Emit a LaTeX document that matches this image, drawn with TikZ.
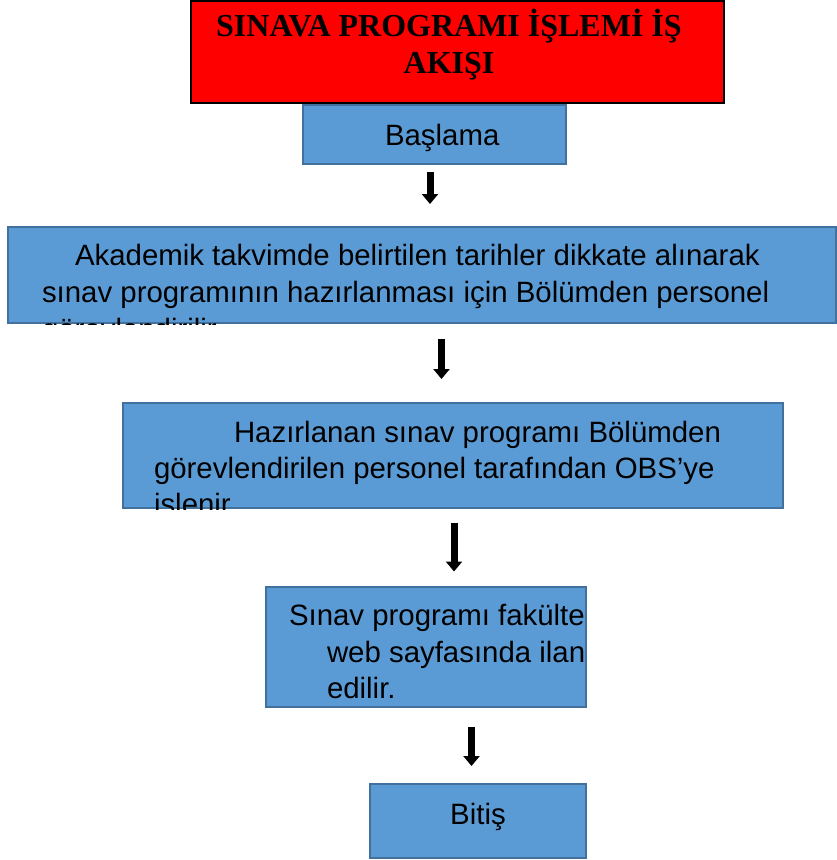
\documentclass[tikz,border=0pt]{standalone}
\usepackage{fontspec}
\setmainfont{Liberation Sans}
\newfontfamily\titlefont{Liberation Serif}
\usetikzlibrary{arrows.meta}
\definecolor{boxblue}{HTML}{5B9BD5}
\definecolor{boxedge}{HTML}{41719C}
\tikzset{
  bluebox/.style={rectangle, fill=boxblue, draw=boxedge, line width=2pt, inner sep=0pt, outer sep=0pt},
  titlebox/.style={rectangle, fill=red, draw=black, line width=1.5pt, inner sep=0pt, outer sep=0pt},
  bodytext/.style={inner sep=0pt, outer sep=0pt, font=\fontsize{29.4}{36}\selectfont, text=black},
  titletext/.style={inner sep=0pt, outer sep=0pt, font=\titlefont\bfseries\fontsize{32}{37}\selectfont, text=black},
  blockarrow/.style={line width=7pt, -{Triangle[length=10pt,width=16pt]}, black}
}
\begin{document}
\begin{tikzpicture}[x=1pt,y=-1pt]
\useasboundingbox (0,0) rectangle (837,860);
% title
\node[titlebox, minimum width=533pt, minimum height=102pt] (title) at (457.5,52) {};
\node[titletext, anchor=base] (t1) at (449,36) {SINAVA PROGRAMI İŞLEMİ İŞ};
\node[titletext, anchor=base] (t2) at (449,73) {AKIŞI};
% start
\node[bluebox, minimum width=263pt, minimum height=59pt] (b1) at (434.5,134.5) {};
\node[bodytext, anchor=base west] (b1t) at (385,145) {Başlama};
% box 2
\node[bluebox, minimum width=828pt, minimum height=96pt] (b2) at (422,275) {};
\begin{scope}
\clip ([shift={(1pt,-1pt)}]b2.south west) rectangle ([shift={(-1pt,1pt)}]b2.north east);
\node[bodytext, anchor=base west] (b2t1) at (75,265) {Akademik takvimde belirtilen tarihler dikkate alınarak};
\node[bodytext, anchor=base west] (b2t2) at (42,302) {sınav programının hazırlanması için Bölümden personel};
\node[bodytext, anchor=base west] (b2t3) at (42,339) {görevlendirilir.};
\end{scope}
% box 3
\node[bluebox, minimum width=660pt, minimum height=105pt] (b3) at (453,455.5) {};
\begin{scope}
\clip ([shift={(1pt,-1pt)}]b3.south west) rectangle ([shift={(-1pt,1pt)}]b3.north east);
\node[bodytext, anchor=base west] (b3t1) at (234,442) {Hazırlanan sınav programı Bölümden};
\node[bodytext, anchor=base west] (b3t2) at (154,478) {görevlendirilen personel tarafından OBS’ye};
\node[bodytext, anchor=base west] (b3t3) at (154,514) {işlenir.};
\end{scope}
% box 4
\node[bluebox, minimum width=320pt, minimum height=120pt] (b4) at (426,647) {};
\node[bodytext, anchor=base west] (b4t1) at (289,625) {Sınav programı fakülte};
\node[bodytext, anchor=base west] (b4t2) at (327,662) {web sayfasında ilan};
\node[bodytext, anchor=base west] (b4t3) at (327,698) {edilir.};
% end
\node[bluebox, minimum width=216pt, minimum height=74pt] (b5) at (478,821) {};
\node[bodytext, anchor=base] (b5t) at (478,824) {Bitiş};
% arrows
\coordinate (a1s) at (430,172); \coordinate (a1e) at (430,204);
\coordinate (a2s) at (441.5,339); \coordinate (a2e) at (441.5,379);
\coordinate (a3s) at (454,522.5); \coordinate (a3e) at (454,571.5);
\coordinate (a4s) at (471.5,727); \coordinate (a4e) at (471.5,766);
\draw[blockarrow] (a1s) -- (a1e);
\draw[blockarrow] (a2s) -- (a2e);
\draw[blockarrow] (a3s) -- (a3e);
\draw[blockarrow] (a4s) -- (a4e);
\end{tikzpicture}
\end{document}
